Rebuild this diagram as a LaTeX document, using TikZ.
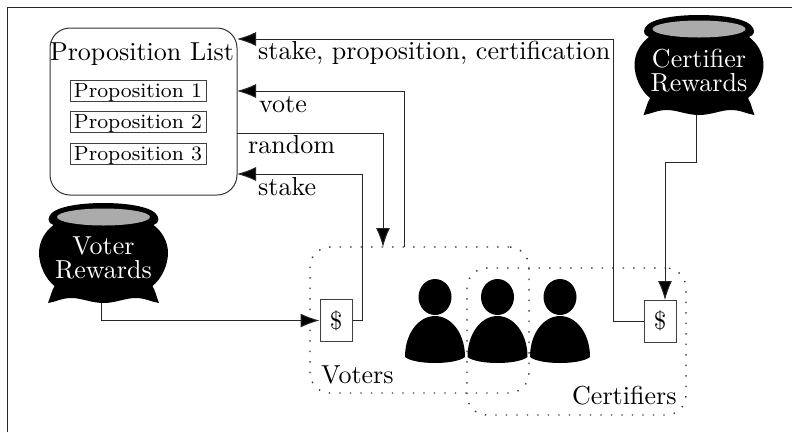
\documentclass[tikz,border=0pt]{standalone}
\usepackage{fontspec}
\setmainfont{lmroman10-regular.otf}
\newfontface\propface{lmroman8-regular.otf}
\usetikzlibrary{arrows.meta}
\newcommand{\bigfont}{\fontsize{26}{20}\selectfont}
\newcommand{\propfont}{\propface\fontsize{20.5}{26}\selectfont}
\tikzset{
  x=1pt,y=-1pt,
  line/.style={line width=1pt,draw=black!85},
  arrow/.style={line,-{Latex[length=19pt,width=14pt,fill=black]}},
  proposal/.style={draw=black!75,line width=1pt,fill=white,minimum width=136pt,minimum height=21pt,inner sep=0pt,font=\propfont,text height=15pt,text depth=2pt},
  money/.style={draw=black!75,line width=1pt,fill=white,minimum width=32pt,minimum height=42pt,inner sep=0pt,font=\fontsize{25}{30}\selectfont},
  group/.style={draw=black!80,line width=1.4pt,dash pattern=on 1.4pt off 9.1pt,rounded corners=20pt,inner sep=0pt},
  label/.style={anchor=base west,inner sep=0pt,font=\bigfont},
  potlabel/.style={text=white,align=center,inner sep=0pt,font=\bigfont,text depth=0pt},
  pot/.pic={
    \fill[black] (-55.5,50) .. controls (-53,44) and (-52,38) .. (-49,33)
      .. controls (-58,26) and (-64.5,12) .. (-64.5,0)
      .. controls (-64.5,-12) and (-58,-22) .. (-50,-28)
      .. controls (-55,-30) and (-56,-33) .. (-54,-37)
      .. controls (-50,-46) and (-25,-50) .. (0,-50)
      .. controls (25,-50) and (50,-46) .. (54,-37)
      .. controls (56,-33) and (55,-30) .. (50,-28)
      .. controls (58,-22) and (64.5,-12) .. (64.5,0)
      .. controls (64.5,12) and (58,26) .. (49,33)
      .. controls (52,38) and (53,44) .. (55.5,50)
      .. controls (48,49) and (42,45) .. (32,45)
      .. controls (22,45) and (12,50) .. (0,50)
      .. controls (-12,50) and (-22,45) .. (-32,45)
      .. controls (-42,45) and (-48,49) .. (-55.5,50) -- cycle;
    \fill[black!33] (0,-36) ellipse [x radius=46.5,y radius=8.5];
  },
  person/.pic={
    \fill[black] (0,0) ellipse [x radius=16.5,y radius=18];
    \fill[black] (-30,60) .. controls (-30,36) and (-16,19) .. (0,19)
      .. controls (16,19) and (30,36) .. (30,60)
      .. controls (20,68) and (-20,68) .. (-30,60) -- cycle;
  },
}
\begin{document}
\begin{tikzpicture}
\useasboundingbox (0,0) rectangle (792,432);
\fill[white] (0,0) rectangle (792,432);
\draw[line width=1pt,black!85] (7,432) -- (7,7) -- (792,7);

% proposition list
\node[draw=black!80,line width=1pt,rounded corners=20pt,minimum width=187pt,minimum height=167pt,inner sep=0pt] (list) at (143.5,111.5) {};
\node[anchor=base,inner sep=0pt,font=\bigfont] (title) at (142,60) {Proposition List};
\node[proposal] (p1) at (138,90.5) {Proposition 1};
\node[proposal] (p2) at (138,122) {Proposition 2};
\node[proposal] (p3) at (138,153.5) {Proposition 3};

% pots
\pic at (103.5,253) {pot};
\pic at (699,65) {pot};
\node[potlabel] (vpot) at (103.5,258) {Voter\\[4pt]Rewards};
\node[potlabel] (cpot) at (699,70) {Certifier\\[4pt]Rewards};
\coordinate (vpotb) at (101.5,303);
\coordinate (cpotb) at (696,115);

% groups
\node[group,minimum width=219pt,minimum height=146pt] (voters) at (419.5,320) {};
\node[group,minimum width=219pt,minimum height=147pt] (certifiers) at (576.5,341.5) {};

% people
\pic at (435,297) {person};
\pic at (497.5,297) {person};
\pic at (560,297) {person};

% money boxes
\node[money] (vbox) at (336,320.5) {\$};
\node[money] (cbox) at (660,321) {\$};

% connector anchor points
\coordinate (l1) at (237,39);
\coordinate (l2) at (237,91);
\coordinate (l3) at (237,133);
\coordinate (l4) at (237,174);
\coordinate (vtop1) at (383,247);
\coordinate (vtop2) at (404,247);
\coordinate (c1) at (613,321);
\coordinate (v1) at (362,320.5);
\coordinate (cbend) at (696,162);
\coordinate (cbend2) at (665,162);
\coordinate (ctop) at (665,300);

\draw[arrow] (cbox.west) -- (c1) |- (l1);
\draw[arrow] (vtop2) |- (l2);
\draw[arrow] (l3) -| (vtop1);
\draw[arrow] (vbox.east) -- (v1) |- (l4);
\draw[arrow] (vpotb) |- (vbox.west);
\draw[arrow] (cpotb) -- (cbend) -- (cbend2) -- (ctop);

% labels
\node[label] (a) at (258,59.5) {stake, proposition, certification};
\node[label] (b) at (259,112) {vote};
\node[label] (c) at (248,153.5) {random};
\node[label] (d) at (258,195) {stake};
\node[label] (e) at (321,383) {Voters};
\node[label] (f) at (572,404) {Certifiers};
\end{tikzpicture}
\end{document}
